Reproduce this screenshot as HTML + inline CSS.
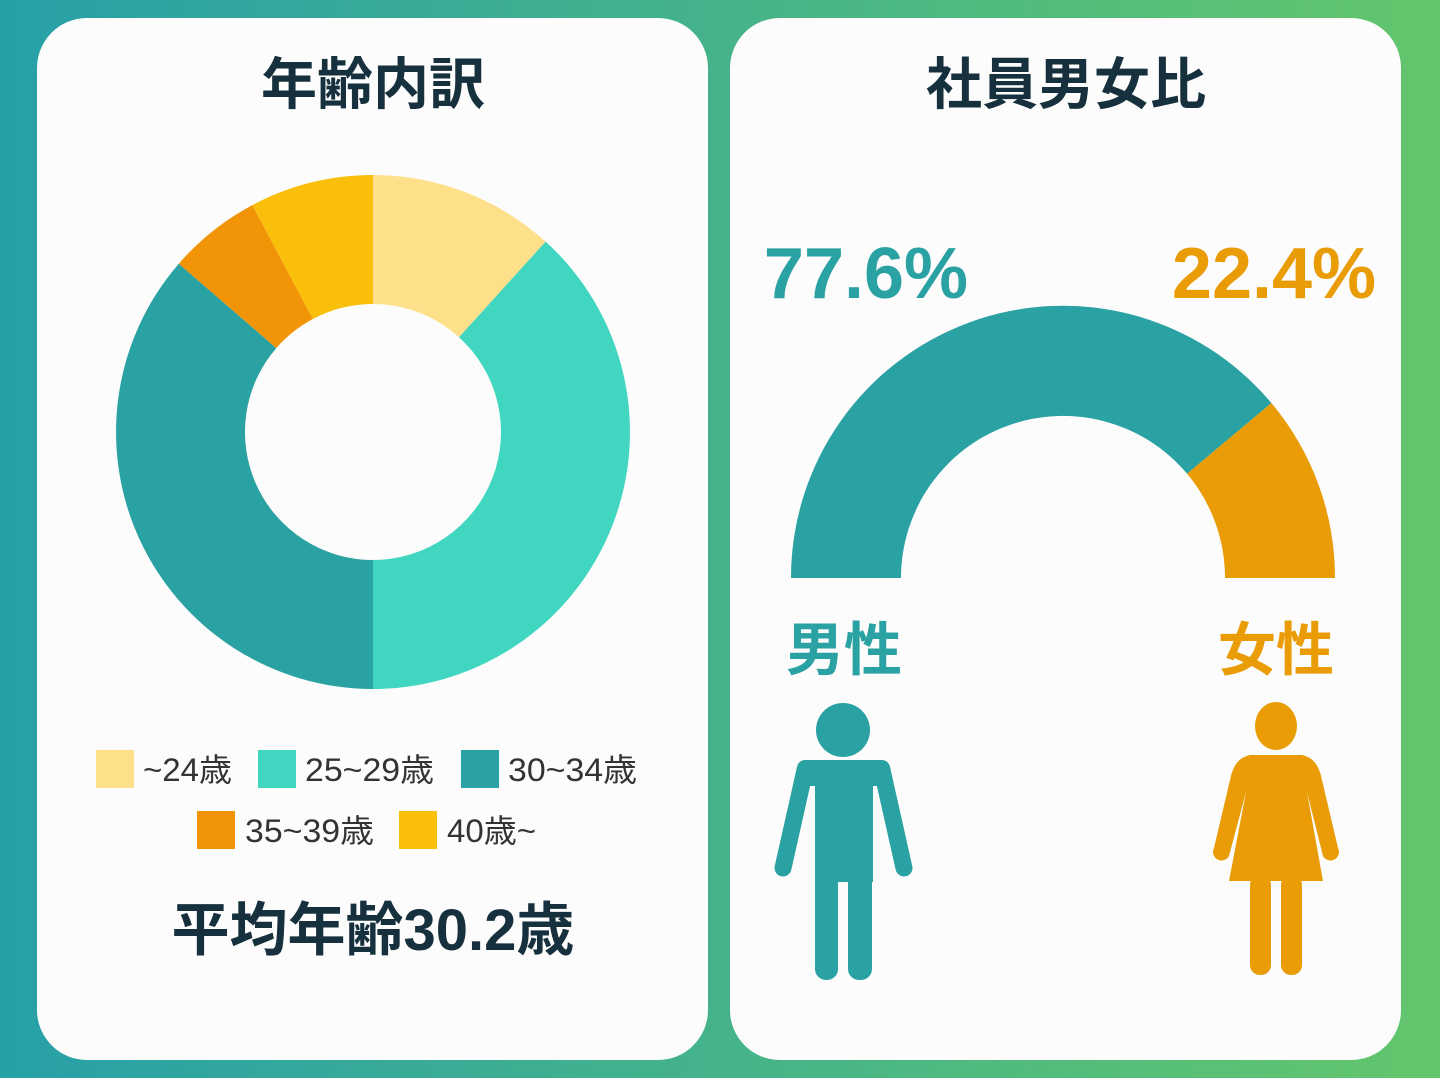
<!DOCTYPE html>
<html><head><meta charset="utf-8"><style>
html,body{margin:0;padding:0;width:1440px;height:1078px;overflow:hidden}
svg{display:block}
text{font-family:"Liberation Sans","Noto Sans CJK JP",sans-serif}
</style></head><body>
<svg width="1440" height="1078" viewBox="0 0 1440 1078" xmlns="http://www.w3.org/2000/svg">
<defs><linearGradient id="bg" x1="0" y1="0" x2="1" y2="0">
<stop offset="0" stop-color="#27a0a8"/><stop offset="1" stop-color="#63c66c"/></linearGradient></defs>
<rect width="1440" height="1078" fill="url(#bg)"/>
<rect x="37" y="18" width="671" height="1042" rx="50" fill="#fcfcfc"/>
<rect x="730" y="18" width="671" height="1042" rx="50" fill="#fcfcfc"/>

<text x="373" y="104" text-anchor="middle" font-size="56" font-weight="bold" fill="#16303d">年齢内訳</text>
<text x="1066" y="104" text-anchor="middle" font-size="56" font-weight="bold" fill="#16303d">社員男女比</text>

<path d="M373,175 A257,257 0 0 1 545.6,241.6 L459,337.2 A128,128 0 0 0 373,304 Z" fill="#ffe08a"/>
<path d="M545.6,241.6 A257,257 0 0 1 373,689 L373,560 A128,128 0 0 0 459,337.2 Z" fill="#40d6c0"/>
<path d="M373,689 A257,257 0 0 1 178.8,263.7 L276.3,348.1 A128,128 0 0 0 373,560 Z" fill="#2aa1a3"/>
<path d="M178.8,263.7 A257,257 0 0 1 252.3,205.1 L312.9,319 A128,128 0 0 0 276.3,348.1 Z" fill="#f29407"/>
<path d="M252.3,205.1 A257,257 0 0 1 373,175 L373,304 A128,128 0 0 0 312.9,319 Z" fill="#f9bf0a"/>

<g font-size="32" fill="#333">
<rect x="96" y="750" width="38" height="38" fill="#ffe08a"/><text x="143" y="781" textLength="89" lengthAdjust="spacingAndGlyphs">~24歳</text>
<rect x="258" y="750" width="38" height="38" fill="#40d6c0"/><text x="305" y="781" textLength="129" lengthAdjust="spacingAndGlyphs">25~29歳</text>
<rect x="461" y="750" width="38" height="38" fill="#2aa1a3"/><text x="508" y="781" textLength="129" lengthAdjust="spacingAndGlyphs">30~34歳</text>
<rect x="197" y="811" width="38" height="38" fill="#f29407"/><text x="245" y="842" textLength="129" lengthAdjust="spacingAndGlyphs">35~39歳</text>
<rect x="399" y="811" width="38" height="38" fill="#f9bf0a"/><text x="447" y="842" textLength="89" lengthAdjust="spacingAndGlyphs">40歳~</text>
</g>
<text x="373" y="950" text-anchor="middle" font-size="58" font-weight="bold" fill="#16303d">平均年齢30.2歳</text>

<path d="M791,578 A272,272 0 0 1 1271.4,403 L1187.1,473.8 A162,162 0 0 0 901,578 Z" fill="#2aa1a3"/>
<path d="M1271.4,403 A272,272 0 0 1 1335,578 L1225,578 A162,162 0 0 0 1187.1,473.8 Z" fill="#ea9c06"/>

<text x="866" y="298" text-anchor="middle" font-size="72" font-weight="bold" fill="#2aa1a3">77.6%</text>
<text x="1274" y="298" text-anchor="middle" font-size="72" font-weight="bold" fill="#ea9c06">22.4%</text>
<text x="844" y="670" text-anchor="middle" font-size="58" font-weight="bold" fill="#2aa1a3">男性</text>
<text x="1276" y="670" text-anchor="middle" font-size="58" font-weight="bold" fill="#ea9c06">女性</text>

<!-- man -->
<g fill="#2aa1a3">
<circle cx="843" cy="730" r="27"/>
<rect x="815" y="760" width="58" height="122"/>
<rect x="797" y="760" width="93" height="26" rx="8"/>
<rect x="815" y="860" width="23" height="120" rx="11"/>
<rect x="848" y="860" width="24" height="120" rx="11"/>
</g>
<g stroke="#2aa1a3" stroke-width="17" stroke-linecap="round">
<line x1="805" y1="770" x2="783" y2="868"/>
<line x1="882" y1="770" x2="904" y2="868"/>
</g>
<!-- woman -->
<g fill="#ea9c06">
<ellipse cx="1276" cy="726" rx="21" ry="24"/>
<path d="M1250,755 L1302,755 Q1318,758 1322,780 L1338,848 A8,8 0 0 1 1323,856 L1307,792 L1323,881 L1229,881 L1246,792 L1229,856 A8,8 0 0 1 1214,848 L1230,780 Q1234,758 1250,755 Z"/>
<rect x="1250" y="875" width="21" height="100" rx="10"/>
<rect x="1281" y="875" width="21" height="100" rx="10"/>
</g>
</svg>
</body></html>
